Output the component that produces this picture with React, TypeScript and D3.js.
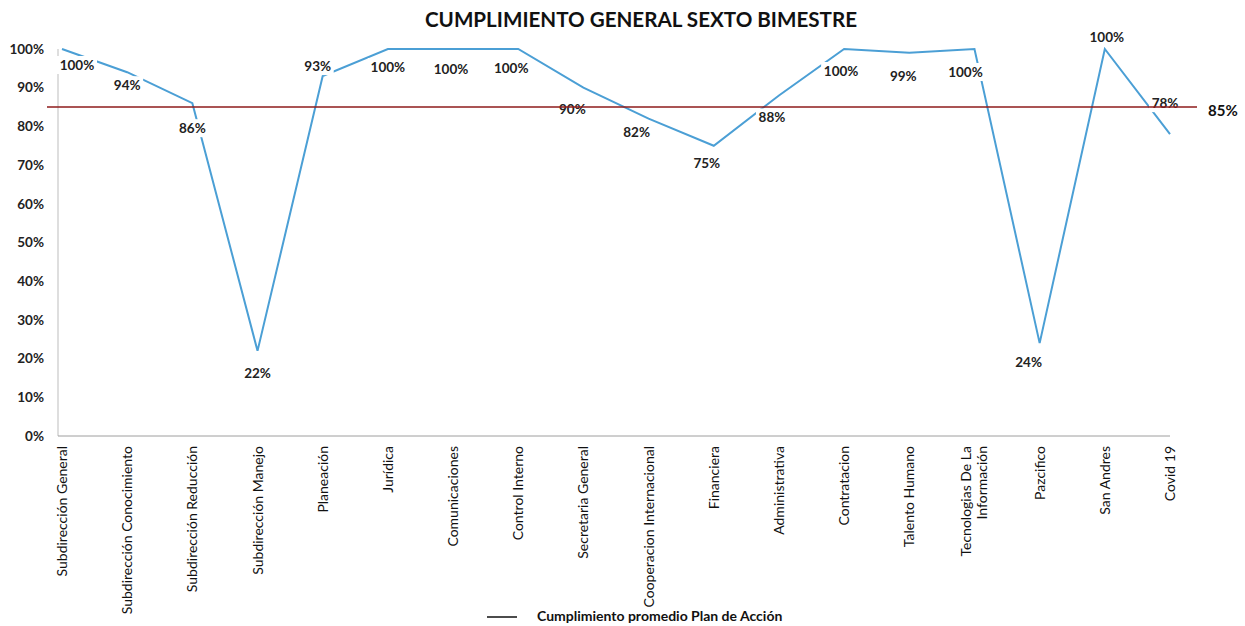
import React from "react";
import * as d3 from "d3";

const categories: string[][] = [
  ["Subdirección General"],
  ["Subdirección Conocimiento"],
  ["Subdirección Reducción"],
  ["Subdirección Manejo"],
  ["Planeación"],
  ["Jurídica"],
  ["Comunicaciones"],
  ["Control Interno"],
  ["Secretaria General"],
  ["Cooperacion Internacional"],
  ["Financiera"],
  ["Administrativa"],
  ["Contratacion"],
  ["Talento Humano"],
  ["Tecnologias De La", "Información"],
  ["Pazcifico"],
  ["San Andres"],
  ["Covid 19"],
];

const values: number[] = [100, 94, 86, 22, 93, 100, 100, 100, 90, 82, 75, 88, 100, 99, 100, 24, 100, 78];

const average = 85;

const yTicks: number[] = [0, 10, 20, 30, 40, 50, 60, 70, 80, 90, 100];

const title = "CUMPLIMIENTO GENERAL SEXTO BIMESTRE";
const legendLabel = "Cumplimiento promedio Plan de Acción";

// label offsets (dx, dy) relative to each point, as placed in the original
const labelOffsets: [number, number][] = [
  [15, 16], [0, 13], [0, 25], [0, 22], [-5, -10], [0, 18], [-2, 20], [-7, 19],
  [-11, 22], [-12, 14], [-7, 18], [-7, 22], [-3, 22], [-6, 23], [-9, 23],
  [-11, 19], [2, -12], [-5, -31],
];

const W = 1245;
const H = 626;
const FONT = "Lato, 'Open Sans', sans-serif";

export default function App() {
  const keys = categories.map((c) => c.join(" "));
  const x = d3.scalePoint<string>().domain(keys).range([62, 1170]);
  const y = d3.scaleLinear().domain([0, 100]).range([436, 49]);

  const line = d3
    .line<number>()
    .x((_, i) => x(keys[i]) as number)
    .y((d) => y(d));

  return (
    <svg
      width={W}
      height={H}
      style={{ position: "absolute", left: 0, top: 0, background: "#fff" }}
      fontFamily={FONT}
    >
      <rect x={0} y={0} width={W} height={H} fill="#fff" />
      <text x={641} y={27} textAnchor="middle" fontSize={20.6} fontWeight={700} fill="#111">
        {title}
      </text>

      {/* axes */}
      <line x1={58} x2={58} y1={y(100)} y2={y(0)} stroke="#bdbdbd" strokeWidth={1} />
      <line x1={58} x2={1170} y1={y(0)} y2={y(0)} stroke="#9e9e9e" strokeWidth={1} />

      {yTicks.map((t) => (
        <text
          key={t}
          x={44}
          y={y(t)}
          dy="0.35em"
          textAnchor="end"
          fontSize={13.5}
          fontWeight={700}
          fill="#222"
        >
          {t}%
        </text>
      ))}

      {categories.map((lines, i) => {
        const cx = x(keys[i]) as number;
        return (
          <text
            key={keys[i]}
            transform={`translate(${cx},446) rotate(-90)`}
            textAnchor="end"
            fontSize={14}
            fill="#111"
          >
            {lines.map((ln, j) => (
              <tspan key={j} x={0} dy={j === 0 ? (lines.length === 1 ? 5 : -3) : 16}>
                {ln}
              </tspan>
            ))}
          </text>
        );
      })}

      {/* data line */}
      <path d={line(values) || ""} fill="none" stroke="#4b9fd5" strokeWidth={2} />

      {/* data labels with white boxes */}
      {values.map((v, i) => {
        const cx = (x(keys[i]) as number) + labelOffsets[i][0];
        const cy = y(v) + labelOffsets[i][1];
        const w = v === 100 ? 40 : 32;
        return (
          <g key={i}>
            <rect x={cx - w / 2} y={cy - 9} width={w} height={18} fill="#fff" />
            <text x={cx} y={cy} dy="0.35em" textAnchor="middle" fontSize={13.5} fontWeight={700} fill="#222">
              {v}%
            </text>
          </g>
        );
      })}

      {/* average reference line */}
      <line x1={47} x2={1197} y1={y(average)} y2={y(average)} stroke="#8e1b1b" strokeWidth={1.5} />
      <text x={1208} y={y(average) + 4} dy="0.35em" fontSize={15} fontWeight={700} fill="#111">
        {average}%
      </text>

      {/* legend */}
      <line x1={487} x2={517} y1={617} y2={617} stroke="#111" strokeWidth={1.5} />
      <text x={537} y={616} dy="0.35em" fontSize={14} fontWeight={700} fill="#111">
        {legendLabel}
      </text>
    </svg>
  );
}
